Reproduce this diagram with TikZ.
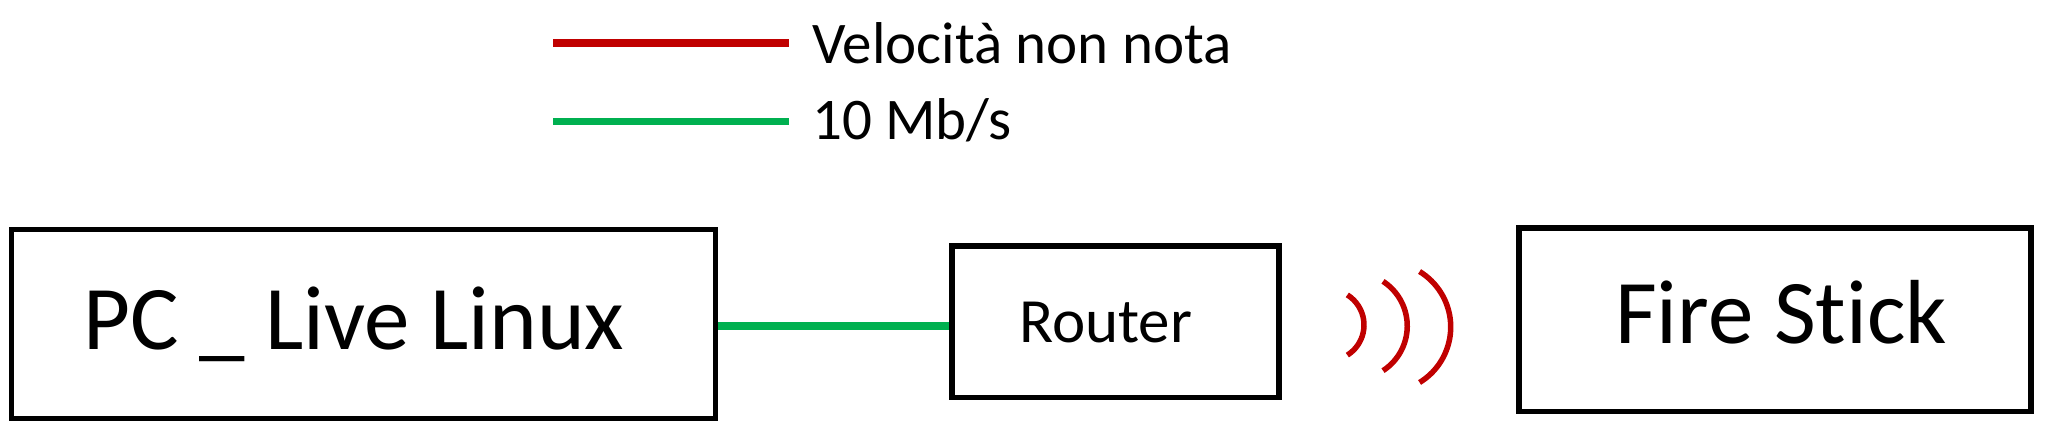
\documentclass[tikz,border=0pt]{standalone}
\usepackage{fontspec}
\setmainfont[Ligatures=NoCommon]{Carlito}
\definecolor{netred}{HTML}{C00000}
\definecolor{netgreen}{HTML}{00B050}
\tikzset{
  devbox/.style={draw=black, line width=5.5pt, rectangle, inner sep=0pt},
  devtext/.style={inner sep=0pt, anchor=base west, text=black},
  greenlink/.style={draw=netgreen, line width=8pt},
  legline/.style={line width=7.5pt},
  wave/.style={draw=netred, line width=5.5pt}
}
\begin{document}
\begin{tikzpicture}[x=1pt, y=-1pt]
\useasboundingbox (0,0) rectangle (2048,431);
% legend
\coordinate (r1) at (553,43);
\coordinate (r2) at (789,43);
\coordinate (g1) at (553,121.5);
\coordinate (g2) at (789,121.5);
\draw[legline, draw=netred] (r1) -- (r2);
\draw[legline, draw=netgreen] (g1) -- (g2);
\node[devtext, font=\fontsize{59}{66}\selectfont] (legred) at (812,63.3) {Velocità non nota};
\node[devtext, font=\fontsize{59}{66}\selectfont] (leggreen) at (812,139.3) {10 Mb/s};
% devices
\node[devbox, minimum width=704pt, minimum height=189pt] (pc) at (363.5,324) {};
\node[devbox, minimum width=327pt, minimum height=151.5pt] (router) at (1115.5,321.75) {};
\node[devbox, minimum width=512pt, minimum height=183.5pt] (fire) at (1775,319.75) {};
\node[devtext, font=\fontsize{91}{100}\selectfont] (pctext) at (83,349.3) {PC \_ Live Linux};
\node[devtext, font=\fontsize{63}{70}\selectfont] (routertext) at (1019,342.7) {Router};
\node[devtext, font=\fontsize{91}{100}\selectfont] (firetext) at (1615,343.3) {Fire Stick};
% link
\coordinate (lk) at (0,326);
\draw[greenlink] (pc.east |- lk) -- (router.west |- lk);
% wireless waves
\coordinate (w1) at (1328.5,325);
\coordinate (w2) at (1354,326);
\coordinate (w3) at (1385.7,327);
\draw[wave] ([shift={(-58:35.5pt)}]w1) arc[start angle=-58, end angle=58, radius=35.5pt];
\draw[wave] ([shift={(-57:53.25pt)}]w2) arc[start angle=-57, end angle=57, radius=53.25pt];
\draw[wave] ([shift={(-58.6:65pt)}]w3) arc[start angle=-58.6, end angle=58.6, radius=65pt];
\end{tikzpicture}
\end{document}
